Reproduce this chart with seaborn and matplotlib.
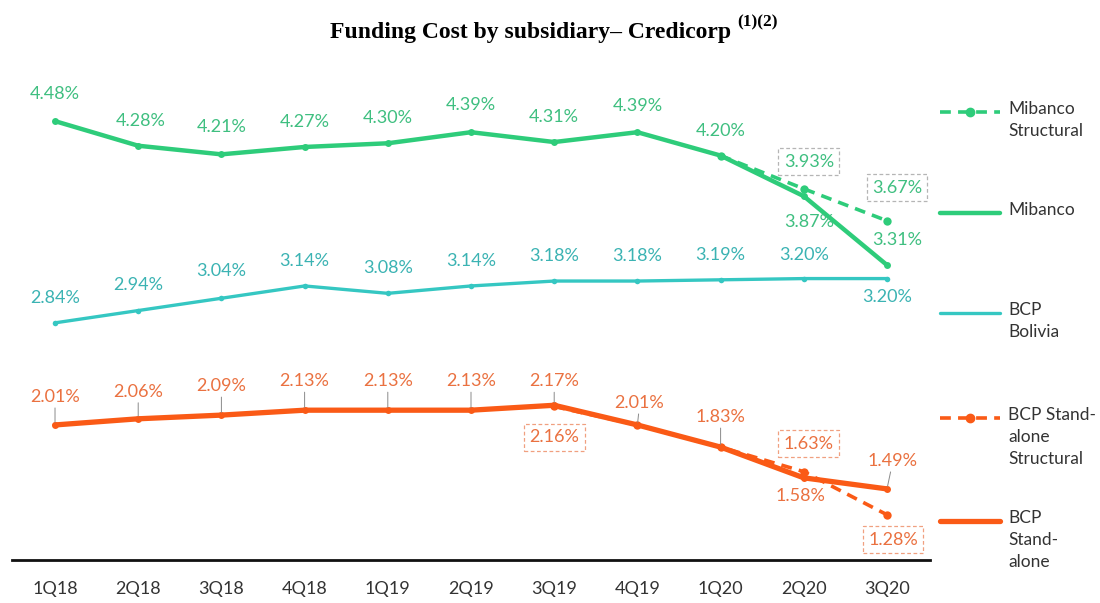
import numpy as np
import pandas as pd
import matplotlib.pyplot as plt
import seaborn as sns
from matplotlib.lines import Line2D

quarters = ['1Q18', '2Q18', '3Q18', '4Q18', '1Q19', '2Q19', '3Q19', '4Q19', '1Q20', '2Q20', '3Q20']
mibanco = [4.48, 4.28, 4.21, 4.27, 4.30, 4.39, 4.31, 4.39, 4.20, 3.87, 3.31]
mibanco_struct_q = ['1Q20', '2Q20', '3Q20']
mibanco_struct = [4.20, 3.93, 3.67]
bolivia = [2.84, 2.94, 3.04, 3.14, 3.08, 3.14, 3.18, 3.18, 3.19, 3.20, 3.20]
bcp = [2.01, 2.06, 2.09, 2.13, 2.13, 2.13, 2.17, 2.01, 1.83, 1.58, 1.49]
bcp_struct_q = ['3Q19', '4Q19', '1Q20', '2Q20', '3Q20']
bcp_struct = [2.16, 2.01, 1.83, 1.63, 1.28]

GREEN = '#2ecc7a'
TEAL = '#35c7c2'
ORANGE = '#fa5a16'
GREEN_TXT = '#3fbf80'
TEAL_TXT = '#3bb3b3'
ORANGE_TXT = '#ea7140'

sns.set_theme(style='white')
plt.rcParams['font.family'] = ['Lato', 'DejaVu Sans']

fig = plt.figure(figsize=(11, 6.03), dpi=100)
ax = fig.add_axes([12 / 1100, 1 - 560 / 603, 918 / 1100, 490 / 603])

pos = {q: i for i, q in enumerate(quarters)}


def frame(qs, vals):
    return pd.DataFrame({'x': [pos[q] for q in qs], 'y': vals})


sns.lineplot(data=frame(quarters, bolivia), x='x', y='y', ax=ax, color=TEAL, lw=2.4,
             marker='o', markersize=4, markeredgewidth=0)
sns.lineplot(data=frame(mibanco_struct_q, mibanco_struct), x='x', y='y', ax=ax, color=GREEN,
             lw=2.6, ls=(0, (3, 2)), marker='o', markersize=6, markeredgewidth=0)
sns.lineplot(data=frame(quarters, mibanco), x='x', y='y', ax=ax, color=GREEN, lw=3.2,
             marker='o', markersize=5, markeredgewidth=0)
sns.lineplot(data=frame(bcp_struct_q, bcp_struct), x='x', y='y', ax=ax, color=ORANGE,
             lw=2.6, ls=(0, (3, 2)), marker='o', markersize=6, markeredgewidth=0)
sns.lineplot(data=frame(quarters, bcp), x='x', y='y', ax=ax, color=ORANGE, lw=3.8,
             marker='o', markersize=5, markeredgewidth=0)

# label offsets in pixels (dx, dy)
mib_off = [(0, 27), (2, 25), (0, 27), (0, 25), (0, 25), (0, 27), (0, 25), (0, 26), (0, 25), (5, -26), (10, 25)]
mib_s_off = [None, (5, 27), (10, 33)]
bol_off = [(0, 25), (0, 26), (0, 27), (0, 25), (0, 25), (0, 25), (0, 25), (0, 25), (0, 25), (0, 24), (0, -18)]
bcp_off = [(0, 28), (0, 27), (0, 29), (0, 29), (0, 29), (0, 29), (0, 24), (2, 22), (0, 30), (-3, -18), (6, 28)]
bcp_s_off = [(0, -31), None, None, (5, 28), (6, -25)]

fs = 13


def put_labels(qs, vals, offs, color, box=None, leader=False):
    for q, v, off in zip(qs, vals, offs):
        if off is None:
            continue
        kw = {}
        if box:
            kw['bbox'] = dict(boxstyle='square,pad=0.3', fc='none', ec=box, ls=(0, (3, 2)), lw=0.9)
        ax.annotate(f'{v:.2f}%', (pos[q], v), xytext=off, textcoords='offset pixels',
                    ha='center', va='center', fontsize=fs, color=color, **kw)
        if leader and off[1] > 0:
            ax.annotate('', (pos[q], v), xytext=(off[0] * 0.6, off[1] - 11),
                        textcoords='offset pixels',
                        arrowprops=dict(arrowstyle='-', color='#8a8a8a', lw=0.7, shrinkA=0, shrinkB=2))


put_labels(quarters, mibanco, mib_off, GREEN_TXT)
put_labels(mibanco_struct_q, mibanco_struct, mib_s_off, GREEN_TXT, box='#b5b5b5')
put_labels(quarters, bolivia, bol_off, TEAL_TXT)
put_labels(quarters, bcp, bcp_off, ORANGE_TXT, leader=True)
put_labels(bcp_struct_q, bcp_struct, bcp_s_off, ORANGE_TXT, box='#f0a080')

ax.set_xlim(-0.517, 10.517)
ax.set_ylim(0.912, 0.912 + 490 / 123)
ax.set_xticks(range(len(quarters)))
ax.set_xticklabels(quarters, fontsize=fs, color='#333333')
ax.tick_params(axis='x', length=0, pad=15)
ax.set_yticks([])
ax.set_xlabel('')
ax.set_ylabel('')
for s in ['top', 'right', 'left']:
    ax.spines[s].set_visible(False)
ax.spines['bottom'].set_color('#111111')
ax.spines['bottom'].set_linewidth(2)
ax.patch.set_alpha(0)

# title with superscript note markers
fig.text(731 / 1100, 1 - 38 / 603, 'Funding Cost by subsidiary– Credicorp',
         ha='right', va='baseline', fontsize=17, fontweight='bold',
         family='Liberation Serif', color='black')
fig.text(737 / 1100, 1 - 26 / 603, '(1)(2)', ha='left', va='baseline', fontsize=12.5,
         fontweight='bold', family='Liberation Serif', color='black')

# legend drawn on the right
legend_items = [
    ('Mibanco\nStructural', GREEN, (0, (3, 2)), 2.6, 112, 'o'),
    ('Mibanco', GREEN, '-', 3.2, 213, None),
    ('BCP\nBolivia', TEAL, '-', 2.4, 313, None),
    ('BCP Stand-\nalone\nStructural', ORANGE, (0, (3, 2)), 2.6, 418, 'o'),
    ('BCP\nStand-\nalone', ORANGE, '-', 3.8, 521, None),
]
for text, col, ls, lw, ypx, mk in legend_items:
    yf = 1 - ypx / 603
    fig.add_artist(Line2D([940 / 1100, 1000 / 1100], [yf, yf], color=col, ls=ls, lw=lw,
                          transform=fig.transFigure))
    if mk:
        fig.add_artist(Line2D([970 / 1100], [yf], color=col, marker=mk, markersize=6,
                              transform=fig.transFigure))
    fig.text(1008 / 1100, yf + 11 / 603, text, ha='left', va='top', fontsize=12.5,
             color='#333333', linespacing=1.45)

fig.savefig('out.png', dpi=100, facecolor='white')
